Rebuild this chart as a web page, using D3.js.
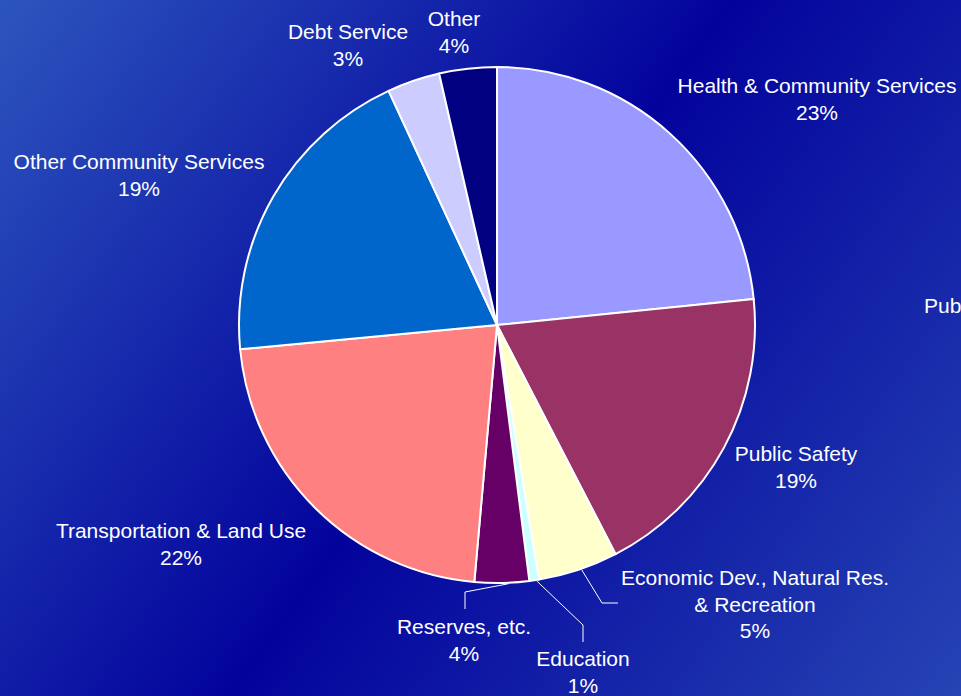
<!DOCTYPE html>
<html><head><meta charset="utf-8">
<script src="https://cdn.jsdelivr.net/npm/d3@7/dist/d3.min.js"></script>
<style>html,body{margin:0;padding:0;overflow:hidden;background:#0a1a9a}</style>
</head><body>
<script>
const categories = ["Health & Community Services","Public Safety","Economic Dev., Natural Res. & Recreation","Education","Reserves, etc.","Transportation & Land Use","Other Community Services","Debt Service","Other"];
const values = [23.4, 19.0, 5.0, 0.6, 3.4, 22.1, 19.6, 3.3, 3.6];
const pctLabels = ["23%","19%","5%","1%","4%","22%","19%","3%","4%"];
const colors = ["#9999ff","#993366","#ffffcc","#ccffff","#660066","#ff8080","#0066cc","#ccccff","#000080"];
const labelLines = [["Health & Community Services"],["Public Safety"],["Economic Dev., Natural Res.","& Recreation"],["Education"],["Reserves, etc."],["Transportation & Land Use"],["Other Community Services"],["Debt Service"],["Other"]];
const labelPos = [[817,93],[796,461],[755,585],[583,666],[464,634],[181,538],[139,169],[348,39],[454,26]];

const W = 961, H = 696, cx = 497, cy = 325, R = 258;
const svg = d3.select("body").append("svg").attr("width", W).attr("height", H);
const defs = svg.append("defs");
const g = defs.append("linearGradient").attr("id","bg").attr("gradientUnits","userSpaceOnUse")
  .attr("x1",0).attr("y1",0).attr("x2",W).attr("y2",H);
g.append("stop").attr("offset","0").attr("stop-color","#2d55be");
g.append("stop").attr("offset","0.5").attr("stop-color","#03039c");
g.append("stop").attr("offset","1").attr("stop-color","#2644b4");
svg.append("rect").attr("width",W).attr("height",H).attr("fill","url(#bg)");

const pie = d3.pie().sort(null).value(d => d)(values);
const arc = d3.arc().innerRadius(0).outerRadius(R);
const pg = svg.append("g").attr("transform",`translate(${cx},${cy})`);
pg.selectAll("path").data(pie).join("path")
  .attr("d", arc).attr("fill", (d,i) => colors[i])
  .attr("stroke","#ffffff").attr("stroke-width",2).attr("stroke-linejoin","round");

// leader lines for small slices, starting at the pie rim within the slice
function edge(i, f, rr){ const a = pie[i].startAngle + f*(pie[i].endAngle - pie[i].startAngle); return [cx + rr*Math.sin(a), cy - rr*Math.cos(a)]; }
const leaders = [
  {i:2, f:0.46, pts:[[602,603],[618,603]]},
  {i:3, f:0.25, pts:[[583,625],[583,642]]},
  {i:4, f:0.38, pts:[[465,592],[465,609]]}
];
leaders.forEach(l => {
  const p0 = edge(l.i, l.f, R + 1);
  svg.append("path").attr("d", d3.line()([p0, ...l.pts]))
    .attr("fill","none").attr("stroke","#ffffff").attr("stroke-width",1);
});

const font = "'Liberation Sans', Arial, sans-serif";
labelLines.forEach((lines, i) => {
  const [x, y] = labelPos[i];
  const t = svg.append("text").attr("x", x).attr("y", y).attr("text-anchor","middle")
    .attr("fill","#ffffff").style("font-family", font).style("font-size","21px");
  lines.concat([pctLabels[i]]).forEach((s, k) => {
    t.append("tspan").attr("x", x).attr("dy", k === 0 ? 0 : 26.5).text(s);
  });
});
svg.append("text").attr("x",924).attr("y",313).attr("fill","#ffffff")
  .style("font-family", font).style("font-size","21px").text("Pub");
</script>
</body></html>
